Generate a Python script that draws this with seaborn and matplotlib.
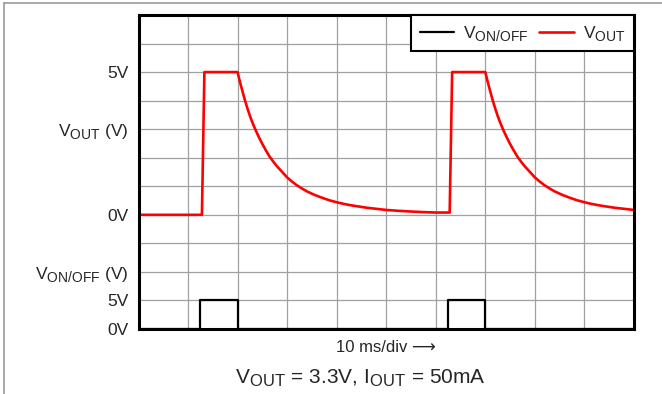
#!/usr/bin/env python
# Scope-style timing plot: V_ON/OFF pulse and V_OUT response

import pandas as pd
import matplotlib.pyplot as plt
import matplotlib._mathtext as mathtext_internal
import seaborn as sns
from matplotlib.lines import Line2D

# ============================================
# DATA
# ============================================

# V_ON/OFF control pulse (ms, V)
VON_T = [0, 12.5, 12.5, 20.0, 20.0, 62.5, 62.5, 70.0, 70.0, 100]
VON_V = [0, 0, 5, 5, 0, 0, 5, 5, 0, 0]

# V_OUT edges (ms): rise start, rise end, end of flat top
VOUT_RISE_START = [12.8, 62.8]
VOUT_RISE_END = [13.3, 63.3]
VOUT_TOP_END = [20.0, 70.0]
VOUT_HIGH = 5.0

# V_OUT decay: ms after the flat top ends, volts
DECAY_DT = [0.2, 0.4, 0.7, 1.0, 1.5, 2.0, 2.5, 3.0, 3.6, 4.3, 5.0, 5.7, 6.5,
            7.3, 8.0, 9.0, 10.0, 11.0, 12.0, 13.0, 14.0, 15.5, 17.0, 18.5,
            20.0, 21.5, 23.0, 24.5, 26.0, 28.0, 30.0, 32.5, 35.0, 37.5, 40.0, 42.8]
DECAY_V = [4.85, 4.71, 4.51, 4.32, 4.0, 3.72, 3.46, 3.23, 2.98, 2.72, 2.48, 2.26, 2.03,
           1.84, 1.69, 1.50, 1.31, 1.16, 1.03, 0.92, 0.82, 0.70, 0.60, 0.51,
           0.44, 0.38, 0.33, 0.29, 0.25, 0.21, 0.17, 0.14, 0.115, 0.095, 0.08, 0.07]

# vertical scale: divisions
VOUT_OFFSET = 4      # V_OUT 0V sits at div 4
VOUT_PER_DIV = 1.0   # 1 V/div
VON_PER_DIV = 5.0    # 5 V/div

YTICK_POS = list(range(12))
YTICK_LABELS = ['0V', '5V', r'V$_{\mathregular{ON/OFF}}$ (V)', '', '0V', '', '',
                r'V$_{\mathregular{OUT}}$ (V)', '', '5V', '', '']

# ============================================
# PLOT
# ============================================

# slightly larger subscripts than matplotlib's default 0.7
mathtext_internal.SHRINK_FACTOR = 0.8

sns.set_style("white")
plt.rcParams['font.family'] = ['Liberation Sans', 'DejaVu Sans']
plt.rcParams['mathtext.fontset'] = 'custom'
plt.rcParams['mathtext.rm'] = 'Liberation Sans'

# assemble V_OUT trace from the read edges and decay
vout_t, vout_v = [0.0], [0.0]
for start, rise, top in zip(VOUT_RISE_START, VOUT_RISE_END, VOUT_TOP_END):
    vout_t += [start, rise, top]
    vout_v += [vout_v[-1], VOUT_HIGH, VOUT_HIGH]
    for dt, v in zip(DECAY_DT, DECAY_V):
        if top + dt <= 100 and (top + dt < start + 50 or start == VOUT_RISE_START[-1]):
            vout_t.append(top + dt)
            vout_v.append(v)

df_on = pd.DataFrame({'t': VON_T, 'div': [v / VON_PER_DIV for v in VON_V]})
df_out = pd.DataFrame({'t': vout_t, 'div': [VOUT_OFFSET + v / VOUT_PER_DIV for v in vout_v]})

fig = plt.figure(figsize=(6.62, 3.94), dpi=100)
ax = fig.add_axes([138.5 / 662, 1 - 329 / 394, (634 - 138.5) / 662, (329 - 15) / 394])

sns.lineplot(data=df_on, x='t', y='div', ax=ax, color='black', lw=1.6,
             estimator=None, sort=False, label=r'V$_{\mathregular{ON/OFF}}$')
sns.lineplot(data=df_out, x='t', y='div', ax=ax, color='#ff0000', lw=1.9,
             estimator=None, sort=False, label=r'V$_{\mathregular{OUT}}$')

ax.set_xlim(0, 100)
ax.set_ylim(0, 11)
ax.set_xticks(range(0, 101, 10))
ax.set_xticklabels([])
ax.set_yticks(YTICK_POS)
ax.set_yticklabels(YTICK_LABELS, fontsize=12.5)
ax.tick_params(length=0, pad=7)
ax.set_xlabel('')
ax.set_ylabel('')
ax.grid(True, color='#a0a0a0', lw=0.9)
ax.set_axisbelow(True)
for s in ax.spines.values():
    s.set_linewidth(2.2)
    s.set_color('black')

leg = ax.legend(loc='upper right', ncol=2, frameon=True, fancybox=False,
                borderaxespad=0, fontsize=12.5, handlelength=2.0,
                columnspacing=0.6, handletextpad=0.5, borderpad=0.5)
leg.get_frame().set_edgecolor('black')
leg.get_frame().set_linewidth(1.5)
leg.get_frame().set_alpha(1)

# annotations below the plot
fig.text(386 / 662, 1 - 348 / 394, '10 ms/div \u27f6', ha='center', va='center', fontsize=12)
fig.text(360 / 662, 1 - 378 / 394,
         r'V$_{\mathregular{OUT}}$ = 3.3V, I$_{\mathregular{OUT}}$ = 50mA',
         ha='center', va='center', fontsize=15)

# outer frame lines
fig.add_artist(Line2D([4 / 662, 1], [1 - 2.5 / 394, 1 - 2.5 / 394], color='#999999', lw=1.2))
fig.add_artist(Line2D([4 / 662, 4 / 662], [0, 1 - 2.5 / 394], color='#999999', lw=1.2))

plt.savefig('out.png', dpi=100)
